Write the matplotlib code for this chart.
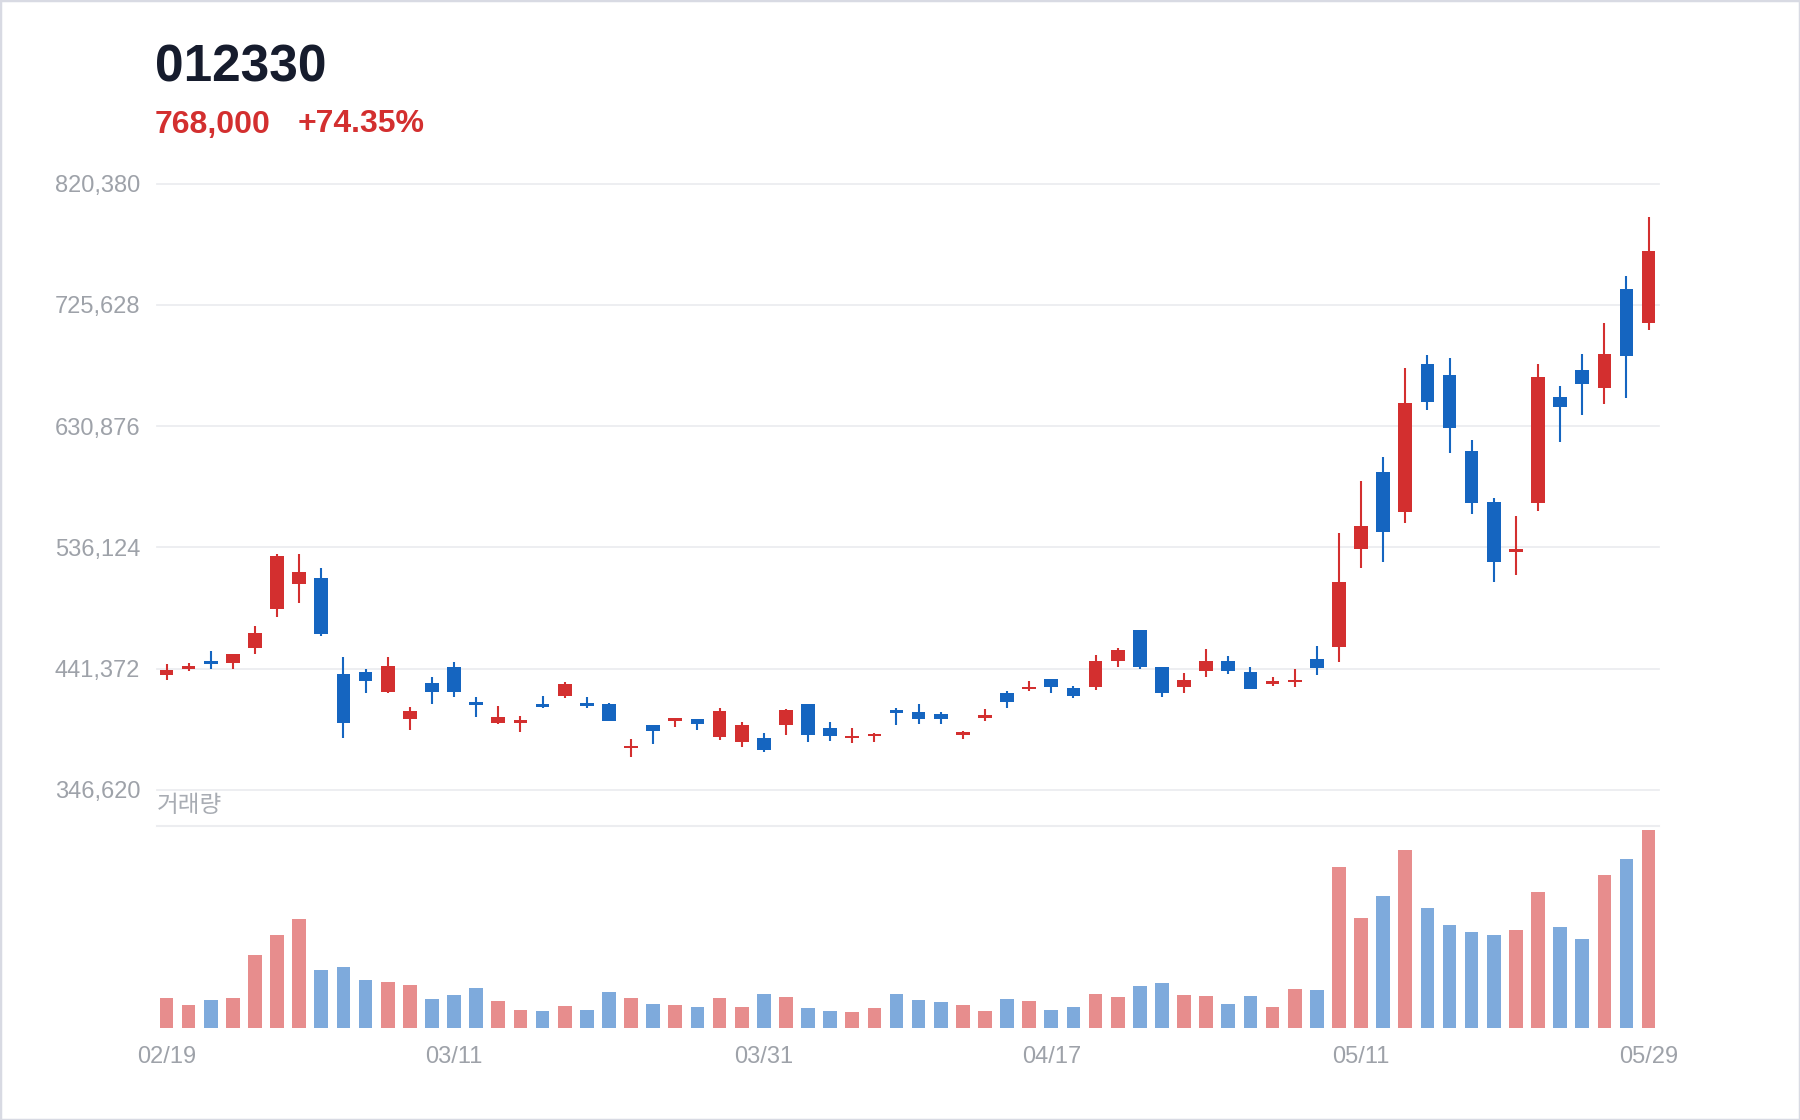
import matplotlib
matplotlib.use('Agg')
import matplotlib.pyplot as plt
from matplotlib.patches import Rectangle

plt.rcParams['font.family'] = ['Liberation Sans', 'Noto Sans CJK KR', 'DejaVu Sans']

ticker = '012330'
last_price = '768,000'
change_pct = '+74.35%'
volume_label = '거래량'

opens = [436700, 441100, 446900, 445800, 457100, 488000, 507100, 511800, 436900, 439000,
         423100, 402100, 430400, 442700, 414700, 398700, 399300, 413400, 420300, 414000,
         414000, 379400, 396900, 400500, 401600, 388000, 383600, 387200, 396900, 413300,
         394800, 387000, 388500, 408800, 407500, 406200, 389800, 403100, 422100, 425200,
         433300, 426500, 426800, 447600, 471800, 442400, 426800, 439800, 447400, 438500,
         429900, 431000, 448900, 458600, 535100, 594700, 564000, 679800, 670700, 611600,
         571800, 532200, 571000, 653500, 674400, 660800, 738400, 711800]
highs = [444800, 446100, 455300, 452900, 474600, 531200, 531200, 519900, 450600, 441400,
         450800, 411600, 434600, 446900, 419200, 412100, 404200, 419700, 430700, 419300,
         414800, 386500, 396900, 403100, 401600, 410700, 399500, 391100, 409900, 413300,
         400000, 395300, 391100, 410900, 414000, 407800, 392700, 409600, 423700, 431700,
         433300, 427800, 451800, 457300, 471800, 442400, 438300, 456500, 451300, 442700,
         434600, 441400, 459100, 547100, 587900, 606900, 676700, 686800, 684500, 620000,
         574400, 560900, 679800, 662400, 687600, 711800, 748300, 794400]
lows = [432800, 439300, 441400, 441400, 452400, 481400, 492400, 467000, 387200, 422300,
        422300, 393000, 413700, 419200, 403200, 397700, 391700, 410300, 418700, 410900,
        400500, 371900, 382800, 395800, 393700, 385900, 380200, 376300, 389300, 384100,
        384900, 383300, 384100, 396900, 398400, 398400, 386700, 400500, 410700, 423700,
        422600, 418700, 424700, 442900, 440900, 419000, 422600, 434600, 437200, 425200,
        427800, 427300, 436400, 446900, 519700, 524900, 554900, 643400, 610100, 561900,
        508800, 514500, 564800, 618700, 639500, 647800, 653000, 705900]
closes = [440500, 443000, 445300, 452600, 469400, 529100, 517000, 468600, 398700, 432000,
          443500, 408400, 422800, 422800, 413100, 403500, 400800, 411600, 429700, 412500,
          400500, 381000, 392400, 402300, 398400, 408300, 397600, 378100, 408800, 389300,
          388500, 388500, 390100, 406800, 401600, 402300, 391400, 404900, 415600, 427300,
          427300, 420300, 447100, 456200, 442400, 422600, 432500, 447100, 439300, 425200,
          431500, 432500, 441600, 508800, 552800, 548100, 648600, 649900, 629100, 571000,
          524900, 534800, 669400, 646000, 663900, 687600, 685800, 768000]
volumes = [182, 138, 170, 182, 436, 556, 654, 348, 364, 290,
           276, 258, 172, 200, 238, 164, 108, 102, 130, 108,
           218, 180, 146, 138, 124, 182, 124, 204, 186, 120,
           102, 96, 118, 204, 166, 156, 136, 102, 174, 164,
           108, 124, 204, 184, 250, 268, 200, 194, 142, 194,
           128, 232, 228, 964, 662, 794, 1068, 718, 616, 578,
           556, 588, 814, 606, 532, 916, 1012, 1188]

tick_positions = [0, 13, 27, 40, 54, 67]
tick_labels = ['02/19', '03/11', '03/31', '04/17', '05/11', '05/29']
price_ticks = [346620, 441372, 536124, 630876, 725628, 820380]

UP = '#D32F2F'
DOWN = '#1565C0'
VOL_UP = '#E78D8D'
VOL_DOWN = '#7EAADC'
GRID = '#ECEDF0'
LABEL = '#9EA2A9'

W, H = 1800, 1120
fig = plt.figure(figsize=(W / 100, H / 100), dpi=100)
fig.patch.set_facecolor('white')

ax = fig.add_axes([157 / W, 1 - 789.8 / H, 1502 / W, (789.8 - 183.7) / H])
axv = fig.add_axes([157 / W, 1 - 1028 / H, 1502 / W, (1028 - 825.7) / H])

n = len(closes)
xs = list(range(n))
ymin, ymax = price_ticks[0], price_ticks[-1]
min_body = (ymax - ymin) / 606 * 2.6

for v in price_ticks:
    ax.axhline(v, color=GRID, lw=1.3, zorder=0, clip_on=False)

for i in xs:
    o, h, l, c = opens[i], highs[i], lows[i], closes[i]
    col = UP if c >= o else DOWN
    ax.vlines(i, l, h, color=col, lw=1.5, zorder=2)
    lo, hi = min(o, c), max(o, c)
    if hi - lo < min_body:
        mid = (hi + lo) / 2
        lo, hi = mid - min_body / 2, mid + min_body / 2
    ax.bar(i, hi - lo, bottom=lo, width=0.62, color=col, zorder=3, linewidth=0)

ax.set_xlim(-0.43, n - 1 + 0.47)
ax.set_ylim(ymin, ymax)
ax.set_yticks(price_ticks)
ax.set_yticklabels([f'{v:,}' for v in price_ticks])
ax.tick_params(axis='y', length=0, pad=12, labelsize=17, labelcolor=LABEL)
ax.set_xticks([])
for s in ax.spines.values():
    s.set_visible(False)

vcols = [VOL_UP if closes[i] >= opens[i] else VOL_DOWN for i in xs]
axv.bar(xs, volumes, width=0.62, color=vcols, linewidth=0, zorder=2)
axv.set_xlim(-0.43, n - 1 + 0.47)
vtop = max(volumes) / 0.979
axv.set_ylim(0, vtop)
axv.axhline(vtop, color=GRID, lw=1.5, clip_on=False, zorder=0)
axv.set_yticks([])
axv.set_xticks(tick_positions)
axv.set_xticklabels(tick_labels)
axv.tick_params(axis='x', length=0, pad=13, labelsize=17, labelcolor=LABEL)
for s in axv.spines.values():
    s.set_visible(False)

fig.text(157 / W, 1 - 806 / H, volume_label, fontsize=17, color='#A8ACB3',
         va='center', ha='left', family=['Noto Sans CJK KR', 'DejaVu Sans'])

fig.text(155 / W, 1 - 81 / H, ticker, fontsize=37, fontweight='bold',
         color='#161C2D', va='baseline', ha='left')
fig.text(155 / W, 1 - 132.5 / H, last_price, fontsize=23, fontweight='bold',
         color=UP, va='baseline', ha='left')
fig.text(298 / W, 1 - 132.5 / H, change_pct, fontsize=23, fontweight='bold',
         color=UP, va='baseline', ha='left')

fig.patches.append(Rectangle((0, 0), 1, 1, transform=fig.transFigure, fill=False,
                             edgecolor='#D8DAE3', lw=2.5, zorder=10))

fig.savefig('out.png', dpi=100, facecolor='white')
